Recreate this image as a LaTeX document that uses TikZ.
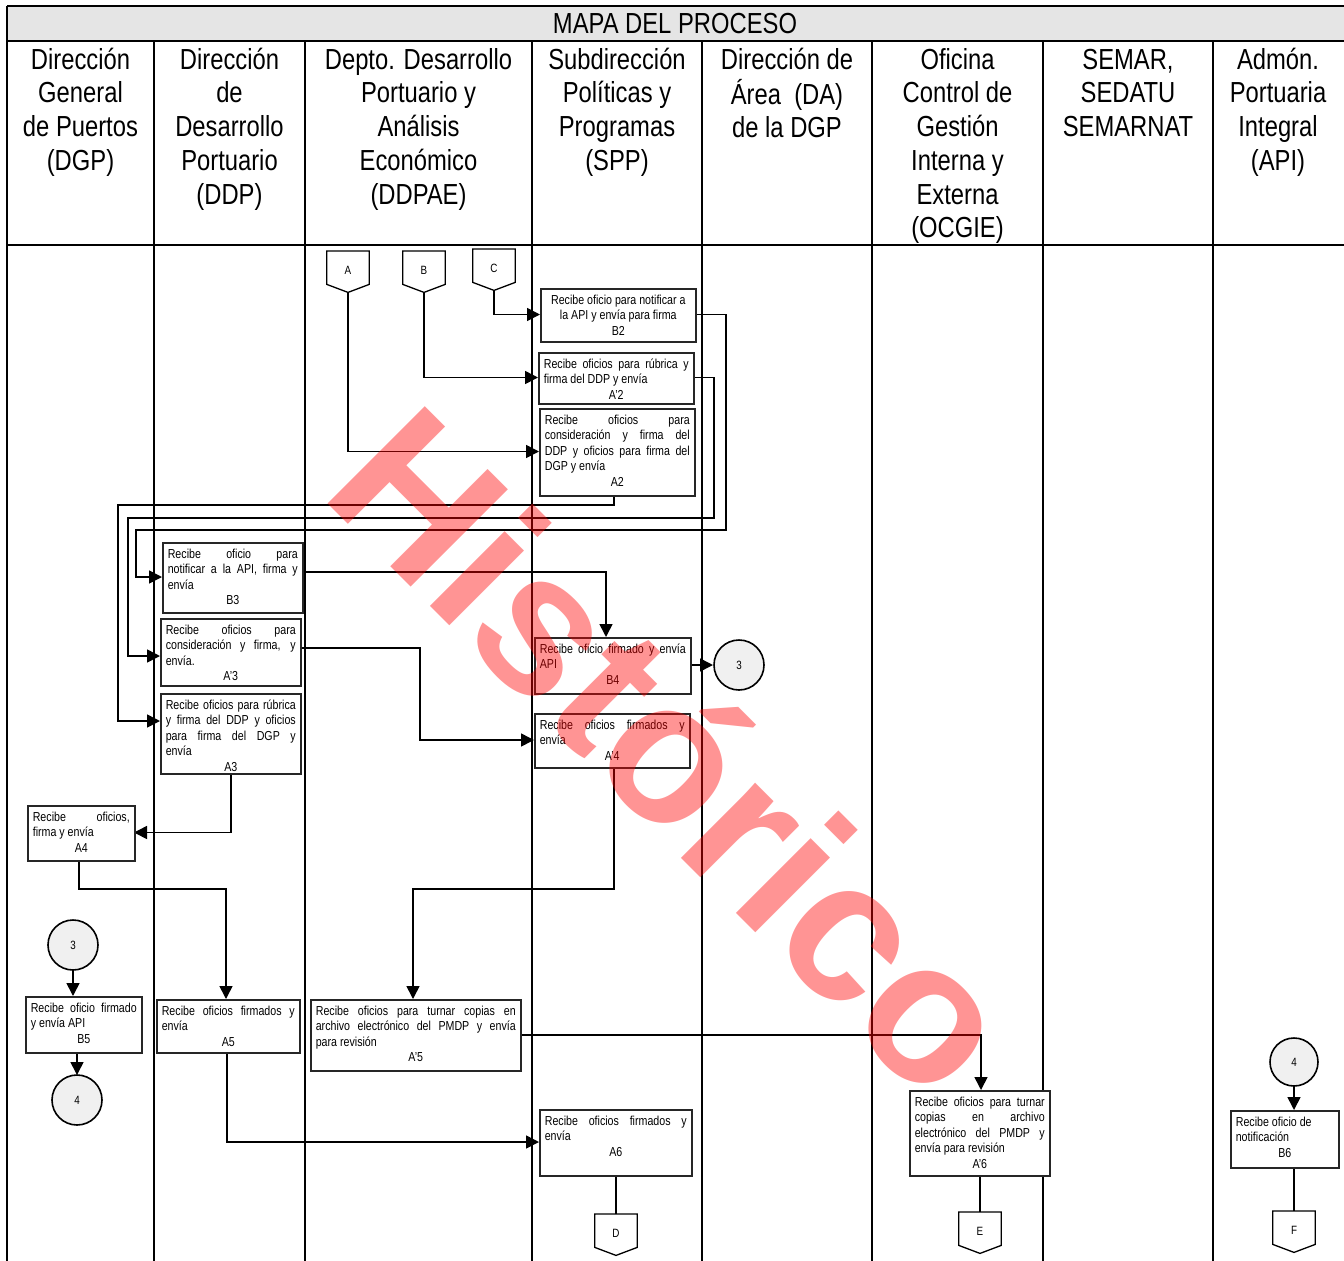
\documentclass[tikz,border=0pt]{standalone}
\usepackage{fontspec}
\setmainfont{Liberation Sans}[FakeStretch=0.82]
\newfontfamily\wmfont{Liberation Sans}
\usetikzlibrary{arrows.meta,calc}

\newcommand\bxt[3]{\vbox to #2{\hsize=#1\relax\offinterlineskip\kern4.5pt #3\vss}}
\newcommand\lnJ[1]{\hbox to\hsize{\vrule height11pt depth4.5pt width0pt\relax #1}}
\newcommand\lnL[1]{\hbox to\hsize{\vrule height11pt depth4.5pt width0pt\relax #1\hfil}}
\newcommand\lnC[1]{\hbox to\hsize{\hfil\vrule height11pt depth4.5pt width0pt\relax #1\hfil}}
\newcommand\hdl[1]{\hbox to\hsize{\hfil\vrule height24pt depth9.7pt width0pt\relax #1\hfil}}
\newcommand\hdr[2]{\vbox{\hsize=#1\relax\offinterlineskip #2}}

\tikzset{
  tbl/.style={line width=1.9pt, black},
  actbox/.style={draw=black!85, line width=1.6pt, fill=white, inner xsep=5pt, inner ysep=0pt,
    anchor=north west, font=\fontsize{13}{15.5}\selectfont},
  hdrnode/.style={anchor=north, inner sep=0pt, font=\fontsize{29}{34}\selectfont},
  circ/.style={circle, draw=black, line width=1.6pt, fill=gray!12, minimum size=50pt, inner sep=0pt,
    font=\fontsize{12}{14}\selectfont},
  offp/.style={draw=black, line width=1.3pt, fill=white},
  conn/.style={line width=1.6pt, black},
  arr/.style={conn, -{Triangle[length=13pt,width=13pt]}}
}

\newcommand\offpg[4]{%
  \node[inner sep=0pt, minimum width=42pt, minimum height=41pt, anchor=north] (#1) at (#2,#3) {};
  \draw[offp] (#1.north west) -- (#1.north east) -- ([yshift=8pt]#1.south east) -- (#1.south)
     -- ([yshift=8pt]#1.south west) -- cycle;
  \node[font=\fontsize{12}{14}\selectfont, inner sep=0pt] (#1-t) at ([yshift=-19pt]#1.north) {#4};
}

\begin{document}
\begin{tikzpicture}[x=1pt,y=-1pt]
\useasboundingbox (0,0) rectangle (1344,1261);
\fill[white] (0,0) rectangle (1344,1261);

% ---------- table ----------
\fill[gray!20] (7,6) rectangle (1344,41);
\draw[tbl] (7,6) -- (1344,6);
\draw[tbl] (7,41) -- (1344,41);
\draw[tbl] (7,245) -- (1344,245);
\draw[tbl] (7,6) -- (7,1261);
\foreach \xx in {154,305,532,702,872,1043,1213} {\draw[tbl] (\xx,41) -- (\xx,1261);}

\node[inner sep=0pt, font=\fontsize{29}{34}\selectfont] (title) at (675,23.5) {MAPA DEL PROCESO};

\node[hdrnode] (h1) at (80.5,45) {\hdr{145pt}{\hdl{Dirección}\hdl{General}\hdl{de Puertos}\hdl{(DGP)}}};
\node[hdrnode] (h2) at (229.5,45) {\hdr{148pt}{\hdl{Dirección}\hdl{de}\hdl{Desarrollo}\hdl{Portuario}\hdl{(DDP)}}};
\node[hdrnode] (h3) at (418.5,45) {\hdr{224pt}{\hdl{Depto. Desarrollo}\hdl{Portuario y}\hdl{Análisis}\hdl{Económico}\hdl{(DDPAE)}}};
\node[hdrnode] (h4) at (617,45) {\hdr{168pt}{\hdl{Subdirección}\hdl{Políticas y}\hdl{Programas}\hdl{(SPP)}}};
\node[hdrnode] (h5) at (787,45) {\hdr{168pt}{\hdl{Dirección de}\hdl{Área\ \ (DA)}\hdl{de la DGP}}};
\node[hdrnode] (h6) at (957.5,45) {\hdr{168pt}{\hdl{Oficina}\hdl{Control de}\hdl{Gestión}\hdl{Interna y}\hdl{Externa}\hdl{(OCGIE)}}};
\node[hdrnode] (h7) at (1128,45) {\hdr{168pt}{\hdl{SEMAR,}\hdl{SEDATU}\hdl{SEMARNAT}}};
\node[hdrnode] (h8) at (1278,45) {\hdr{128pt}{\hdl{Admón.}\hdl{Portuaria}\hdl{Integral}\hdl{(API)}}};

% ---------- off-page connectors ----------
\offpg{A}{348}{251}{A}
\offpg{B}{424}{251}{B}
\offpg{C}{494}{249}{C}
\offpg{D}{616}{1214}{D}
\offpg{E}{980}{1212}{E}
\offpg{F}{1294}{1211}{F}

% ---------- connectors ----------
\draw[arr] (C.south) |- (540,314.5);
\draw[arr] (B.south) |- (538,377.5);
\draw[arr] (A.south) |- (539,451.5);
\draw[arr] (695,314.5) -| (726,530) -- (136,530) |- (162,577);
\draw[arr] (693,377.5) -| (714,518) -- (128,518) |- (160,656);
\draw[arr] (614,495) |- (118,505) |- (160,721);
\draw[arr] (300,572) -| (606,637);
\draw[arr] (298,648) -| (420,740) -- (534,740);
\draw[arr] (690,665) -- (713,665);
\draw[arr] (614,767) |- (413,889) -- (413,999);
\draw[arr] (231,773) |- (134,832.5);
\draw[arr] (79,860) |- (226,889) -- (226,999);
\draw[arr] (73,970) -- (73,996);
\draw[arr] (77,1052) -- (77,1075);
\draw[arr] (227,1052) |- (539,1142);
\draw[arr] (520,1035) -| (981,1090);
\draw[conn] (616,1175) -- (D.north);
\draw[conn] (980,1175) -- (E.north);
\draw[arr] (1294,1086) -- (1294,1110);
\draw[conn] (1294,1167) -- (F.north);

% ---------- activity boxes ----------
\node[actbox] (B2) at (540,288) {\bxt{145pt}{53pt}{\lnC{Recibe oficio para notificar a}\lnC{la API y envía para firma}\lnC{B2}}};
\node[actbox] (Ap2) at (538,352) {\bxt{145pt}{51pt}{\lnJ{Recibe oficios para rúbrica y}\lnL{firma del DDP y envía}\lnC{A’2}}};
\node[actbox] (A2) at (539,408) {\bxt{145pt}{87pt}{\lnJ{Recibe oficios para}\lnJ{consideración y firma del}\lnJ{DDP y oficios para firma del}\lnL{DGP y envía}\lnC{A2}}};
\node[actbox] (B3) at (162,542) {\bxt{130pt}{70pt}{\lnJ{Recibe oficio para}\lnJ{notificar a la API, firma y}\lnL{envía}\lnC{B3}}};
\node[actbox] (Ap3) at (160,618) {\bxt{130pt}{67pt}{\lnJ{Recibe oficios para}\lnJ{consideración y firma, y}\lnL{envía.}\lnC{A’3}}};
\node[actbox] (A3) at (160,693) {\bxt{130pt}{80pt}{\lnJ{Recibe oficios para rúbrica}\lnJ{y firma del DDP y oficios}\lnJ{para firma del DGP y}\lnL{envía}\lnC{A3}}};
\node[actbox] (B4) at (534,637) {\bxt{146pt}{56pt}{\lnJ{Recibe oficio firmado y envía}\lnL{API}\lnC{B4}}};
\node[actbox] (Ap4) at (534,713) {\bxt{145pt}{54pt}{\lnJ{Recibe oficios firmados y}\lnL{envía}\lnC{A’4}}};
\node[actbox] (A4) at (27,805) {\bxt{97pt}{55pt}{\lnJ{Recibe oficios,}\lnL{firma y envía}\lnC{A4}}};
\node[actbox] (B5) at (25,996) {\bxt{106pt}{56pt}{\lnJ{Recibe oficio firmado}\lnL{y envía API}\lnC{B5}}};
\node[actbox] (A5) at (156,999) {\bxt{133pt}{53pt}{\lnJ{Recibe oficios firmados y}\lnL{envía}\lnC{A5}}};
\node[actbox] (Ap5) at (310,999) {\bxt{200pt}{71pt}{\lnJ{Recibe oficios para turnar copias en}\lnJ{archivo electrónico del PMDP y envía}\lnL{para revisión}\lnC{A’5}}};
\node[actbox] (A6) at (539,1109) {\bxt{142pt}{66pt}{\lnJ{Recibe oficios firmados y}\lnL{envía}\lnC{A6}}};
\node[actbox] (Ap6) at (909,1090) {\bxt{130pt}{85pt}{\lnJ{Recibe oficios para turnar}\lnJ{copias en archivo}\lnJ{electrónico del PMDP y}\lnL{envía para revisión}\lnC{A’6}}};
\node[actbox] (B6) at (1230,1110) {\bxt{98pt}{57pt}{\lnL{Recibe oficio de}\lnL{notificación}\lnC{B6}}};

% ---------- on-page connectors ----------
\node[circ] (c3a) at (739,665) {3};
\node[circ] (c3b) at (73,945) {3};
\node[circ] (c4a) at (77,1100) {4};
\node[circ, minimum size=48pt] (c4b) at (1294,1062) {4};

% ---------- watermark ----------
\node[font=\wmfont\bfseries\fontsize{200}{200}\selectfont, text=red, text opacity=0.42, rotate=-45, inner sep=0pt]
  (wm) at (676,750) {Histórico};
\end{tikzpicture}
\end{document}
